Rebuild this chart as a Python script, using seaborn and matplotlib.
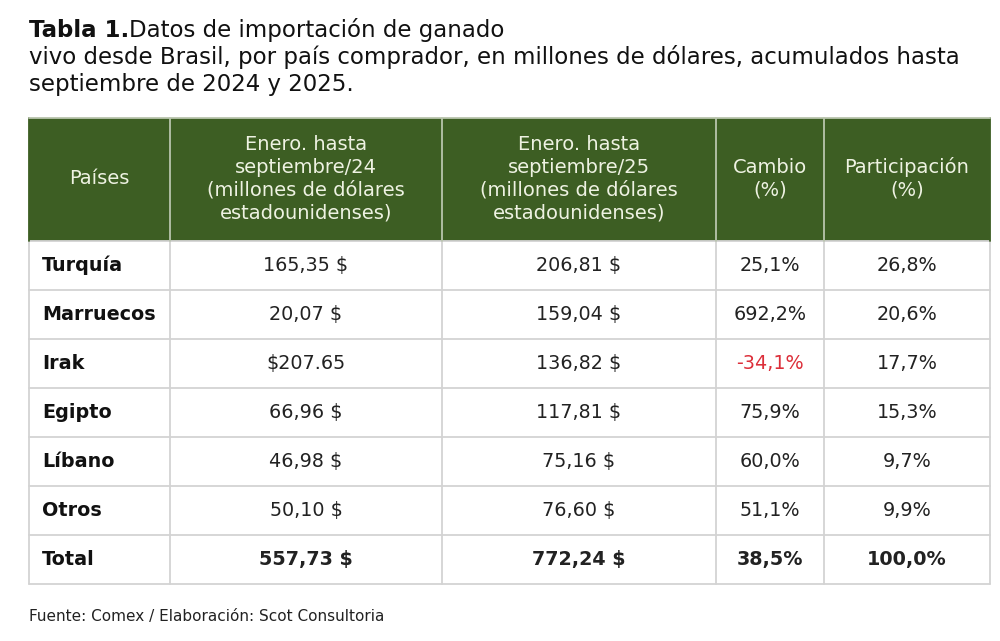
import seaborn as sns
import matplotlib.pyplot as plt
from matplotlib.patches import Rectangle

# datos de la tabla
paises = ["Turquía", "Marruecos", "Irak", "Egipto", "Líbano", "Otros", "Total"]
ene_sep_24 = [165.35, 20.07, 207.65, 66.96, 46.98, 50.10, 557.73]
ene_sep_25 = [206.81, 159.04, 136.82, 117.81, 75.16, 76.60, 772.24]
cambio = [25.1, 692.2, -34.1, 75.9, 60.0, 51.1, 38.5]
participacion = [26.8, 20.6, 17.7, 15.3, 9.7, 9.9, 100.0]
# la celda de Irak 2024 aparece con formato distinto en el original
formato_us = {(2, 1)}

encabezados = ["Países",
               "Enero. hasta\nseptiembre/24\n(millones de dólares\nestadounidenses)",
               "Enero. hasta\nseptiembre/25\n(millones de dólares\nestadounidenses)",
               "Cambio\n(%)",
               "Participación\n(%)"]

def dinero(v, us=False):
    if us:
        return "${:.2f}".format(v)
    return "{:.2f} $".format(v).replace(".", ",")

def pct(v):
    return "{:.1f}%".format(v).replace(".", ",")

sns.set_theme(style="white")
plt.rcParams['font.family'] = ['DejaVu Sans']

verde = "#3d5e23"
gris = "#d3d3d3"

fig = plt.figure(figsize=(10, 6.41), dpi=100)
ax = fig.add_axes([0, 0, 1, 1])
ax.set_xlim(0, 1000)
ax.set_ylim(641, 0)
ax.axis("off")

# titulo
t = ax.text(29, 37, "Tabla 1.", fontsize=16.5, fontweight="bold", color="#111111", va="baseline")
ax.annotate("Datos de importación de ganado", xy=(1, 0), xycoords=t, fontsize=16.5,
            color="#111111", va="bottom", ha="left")
ax.text(29, 64, "vivo desde Brasil, por país comprador, en millones de dólares, acumulados hasta",
        fontsize=16.5, color="#111111", va="baseline")
ax.text(29, 91, "septiembre de 2024 y 2025.", fontsize=16.5, color="#111111", va="baseline")

# geometria de la tabla
col_x = [29, 170, 442, 716, 824, 990]
top, head_bottom = 118, 241
row_h = 49

# encabezado
ax.add_patch(Rectangle((col_x[0], top), col_x[-1] - col_x[0], head_bottom - top,
                       facecolor=verde, edgecolor="none"))
for i, h in enumerate(encabezados):
    xc = (col_x[i] + col_x[i + 1]) / 2
    ax.text(xc, (top + head_bottom) / 2 - 1, h, ha="center", va="center", fontsize=14,
            color="#eef2e2", linespacing=1.25, multialignment="center")

# filas
for r, p in enumerate(paises):
    y0 = head_bottom + r * row_h
    yc = y0 + row_h / 2
    peso = "bold" if p == "Total" else "normal"
    celdas = [dinero(ene_sep_24[r], (r, 1) in formato_us), dinero(ene_sep_25[r]),
              pct(cambio[r]), pct(participacion[r])]
    ax.text(42, yc, p, ha="left", va="center", fontsize=13.8, fontweight="bold", color="#111111")
    for c, s in enumerate(celdas, start=1):
        xc = (col_x[c] + col_x[c + 1]) / 2
        color = "#dc2f3a" if (c == 3 and cambio[r] < 0) else "#222222"
        ax.text(xc, yc, s, ha="center", va="center", fontsize=13.8, fontweight=peso, color=color)

bottom = head_bottom + len(paises) * row_h
# lineas de la cuadricula
for r in range(len(paises) + 1):
    y = head_bottom + r * row_h
    ax.plot([col_x[0], col_x[-1]], [y, y], color=gris, lw=1.3)
for x in col_x:
    ax.plot([x, x], [head_bottom, bottom], color=gris, lw=1.3)
    ax.plot([x, x], [top, head_bottom], color="#b9c4ad" if x not in (col_x[0], col_x[-1]) else verde, lw=1.3)
ax.plot([col_x[0], col_x[-1]], [top, top], color="#b9c4ad", lw=1.3)

# fuente
ax.text(29, 616, "Fuente: Comex / Elaboración: Scot Consultoria", fontsize=11,
        color="#222222", va="center")

fig.savefig("out.png", dpi=100, facecolor="white")
